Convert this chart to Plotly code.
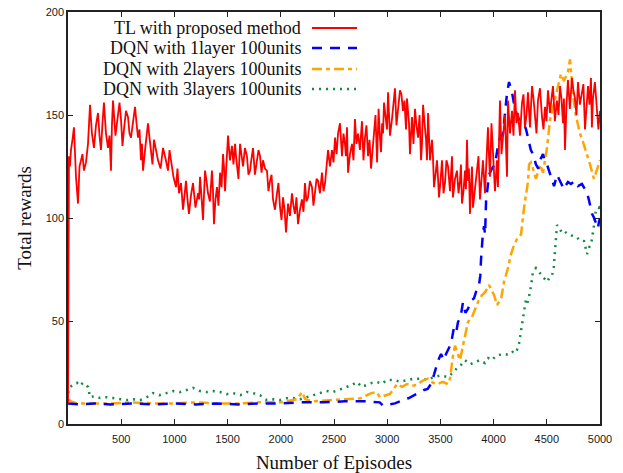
import plotly.graph_objects as go

# ---------------- data ----------------
tl_episodes = [0, 9, 28, 56, 94, 122, 150, 188, 207, 244, 282, 310, 338, 376, 404, 423, 470, 498, 526, 564,
               592, 630, 658, 686, 705, 752, 780, 808, 846, 893, 940, 968, 1015, 1043, 1081, 1109, 1137, 1175,
               1222, 1241, 1269, 1288, 1316, 1353, 1372, 1400, 1429, 1457, 1476, 1504, 1541, 1570, 1588, 1617,
               1645, 1682, 1711, 1739, 1776, 1805, 1833, 1870, 1899, 1927, 1964, 1993, 2021, 2049, 2068, 2105,
               2133, 2162, 2199, 2227, 2256, 2293, 2322, 2350, 2387, 2416, 2444, 2481, 2510, 2538, 2575, 2603,
               2622, 2632, 2669, 2697, 2726, 2763, 2791, 2820, 2848, 2876, 2905, 2933, 2952, 2970, 2998, 3008,
               3045, 3073, 3102, 3120, 3148, 3177, 3196, 3214, 3233, 3261, 3290, 3318, 3337, 3365, 3384, 3421,
               3440, 3468, 3487, 3515, 3543, 3572, 3609, 3618, 3656, 3684, 3703, 3731, 3750, 3759, 3778, 3797,
               3806, 3844, 3872, 3900, 3938, 3947, 3966, 3994, 4032, 4041, 4060, 4088, 4126, 4135, 4173, 4201,
               4229, 4267, 4295, 4323, 4361, 4389, 4417, 4455, 4483, 4511, 4530, 4558, 4595, 4624, 4652, 4671,
               4699, 4736, 4765, 4793, 4830, 4859, 4887, 4915, 4934, 4971, 5000]
tl_rewards = [10, 130, 133, 144, 107, 128, 123, 136, 155, 134, 151, 133, 156, 134, 123, 157, 152, 148, 143, 149,
              139, 154, 139, 128, 123, 146, 131, 138, 128, 134, 123, 128, 115, 112, 104, 118, 102, 117,
              112, 120, 99, 123, 112, 123, 97, 115, 122, 131, 113, 140, 135, 136, 125, 136,
              125, 130, 123, 134, 127, 130, 128, 123, 118, 109, 112, 105, 110, 93, 107, 112,
              102, 97, 109, 117, 110, 115, 112, 118, 122, 117, 133, 133, 139, 141, 130, 136,
              144, 122, 136, 148, 141, 147, 139, 130, 124, 143, 127, 138, 146, 156, 143, 161,
              148, 163, 152, 162, 152, 143, 152, 131, 149, 153, 139, 128, 155, 138, 151, 138,
              115, 128, 110, 128, 117, 125, 130, 110, 123, 118, 107, 123, 138, 118, 102, 125,
              105, 123, 109, 128, 136, 144, 120, 133, 128, 115, 157, 141, 120, 157, 152, 162,
              151, 156, 144, 161, 164, 149, 157, 149, 154, 162, 151, 164, 157, 164, 146, 133,
              167, 168, 158, 166, 161, 143, 164, 168, 158, 154, 152]
# additional readings of the jagged TL curve between the points above
tl_extra_episodes = [18, 42, 75, 108, 136, 169, 197, 225, 263, 296, 324, 357, 390, 413, 446, 484, 512, 545, 578,
                     611, 644, 672, 695, 728, 766, 794, 827, 870, 916, 954, 991, 1029, 1062, 1095, 1123, 1156,
                     1198, 1232, 1255, 1278, 1302, 1334, 1362, 1386, 1414, 1443, 1466, 1490, 1522, 1555, 1579,
                     1602, 1631, 1663, 1696, 1725, 1757, 1790, 1819, 1851, 1884, 1913, 1945, 1978, 2007, 2035,
                     2058, 2086, 2119, 2147, 2180, 2213, 2241, 2274, 2307, 2336, 2368, 2401, 2430, 2462, 2495,
                     2524, 2556, 2589, 2612, 2650, 2683, 2711, 2744, 2777, 2805, 2834, 2862, 2890, 2919, 2942,
                     2961, 2984, 3026, 3059, 3087, 3111, 3134, 3162, 3186, 3205, 3223, 3247, 3275, 3304, 3327,
                     3351, 3374, 3402, 3430, 3454, 3477, 3501, 3529, 3557, 3590, 3637, 3670, 3693, 3717, 3740,
                     3768, 3787, 3825, 3858, 3886, 3919, 3956, 3980, 4013, 4050, 4074, 4107, 4154, 4187, 4215,
                     4248, 4281, 4309, 4342, 4375, 4403, 4436, 4469, 4497, 4520, 4544, 4576, 4610, 4638, 4661,
                     4685, 4717, 4750, 4779, 4811, 4844, 4873, 4901, 4924, 4952, 4985]
tl_extra_rewards = [125, 138, 120, 125, 131, 127, 146, 141, 145, 140, 146, 141, 140, 145, 140, 156, 135, 152, 141,
                    147, 146, 143, 136, 135, 139, 126, 133, 124, 129, 133, 120, 124, 117, 112, 109, 111,
                    105, 109, 110, 111, 118, 108, 114, 109, 106, 115, 125, 127, 128, 126, 130,
                    119, 130, 134, 121, 129, 121, 133, 122, 124, 113, 121, 104, 117, 99, 104,
                    100, 101, 106, 110, 104, 103, 108, 118, 106, 119, 112, 113, 124, 125, 127,
                    131, 146, 141, 130, 131, 128, 136, 133, 128, 145, 138, 133, 150, 153, 132,
                    141, 150, 140, 156, 145, 155, 160, 157, 158, 146, 141, 136, 145, 150, 136,
                    146, 128, 128, 130, 121, 120, 118, 112, 128, 113, 119, 112, 126, 113, 114,
                    124, 115, 114, 130, 119, 112, 131, 146, 113, 135, 131, 150, 141, 140, 146,
                    140, 160, 150, 144, 158, 141, 163, 143, 147, 156, 158, 147, 150, 158, 158,
                    155, 153, 162, 150, 155, 165, 153, 155, 144, 166, 143]

dqn1_episodes = [0, 100, 250, 400, 600, 800, 1000, 1200, 1400, 1600, 1800, 2000, 2200, 2400, 2600, 2800, 2930,
                 2960, 3020, 3073, 3120, 3158, 3200, 3252, 3300, 3346, 3380, 3412, 3440, 3459, 3480, 3506, 3530,
                 3553, 3580, 3600, 3628, 3650, 3665, 3690, 3712, 3735, 3760, 3790, 3816, 3840, 3863, 3875, 3882,
                 3891, 3900, 3910, 3920, 3929, 3948, 3957, 3985, 4013, 4035, 4060, 4088, 4107, 4125, 4145, 4160,
                 4173, 4190, 4201, 4220, 4239, 4267, 4290, 4305, 4333, 4350, 4370, 4398, 4420, 4436, 4464, 4480,
                 4502, 4530, 4550, 4568, 4596, 4615, 4633, 4661, 4680, 4699, 4727, 4765, 4793, 4830, 4859, 4880,
                 4896, 4925, 4945, 4962, 4980, 4990, 5000]
dqn1_rewards = [10, 9.5, 10, 9.5, 10, 9.5, 10, 9.5, 10, 9.5, 10, 10, 10.5, 10.5, 11, 11, 10.5,
                9, 9.5, 10, 11, 12, 12.5, 14, 15, 16.5, 17, 19.5, 24, 28, 31, 34, 31,
                34, 37, 39, 47, 45, 49.5, 52, 59, 54, 56, 60, 61, 65, 67.5, 72, 80,
                88, 93, 96, 92, 108, 118, 121, 124, 126, 133, 139, 141, 152, 160, 166, 163,
                161, 156, 153, 150, 148, 146, 145, 143, 136, 133, 131, 126, 124, 128, 131, 128,
                126, 121, 118, 115.5, 121, 119, 117.5, 114, 116, 117.5, 116.5, 118, 115.5, 116.5, 114, 112,
                108.7, 102, 100, 97, 95, 98, 100]

dqn2_episodes = [0, 30, 80, 200, 400, 600, 800, 1000, 1200, 1400, 1600, 1800, 2000, 2150, 2200, 2230, 2300,
                 2450, 2600, 2750, 2850, 2900, 2932, 2980, 3026, 3060, 3092, 3140, 3186, 3230, 3280, 3330, 3383,
                 3430, 3477, 3520, 3571, 3590, 3600, 3618, 3637, 3660, 3684, 3712, 3735, 3759, 3797, 3825, 3860,
                 3891, 3920, 3957, 3980, 4004, 4032, 4070, 4098, 4135, 4164, 4192, 4229, 4258, 4286, 4310, 4323,
                 4333, 4350, 4370, 4398, 4420, 4436, 4464, 4485, 4502, 4530, 4550, 4568, 4596, 4615, 4633, 4661,
                 4699, 4718, 4730, 4746, 4774, 4812, 4840, 4877, 4906, 4943, 4962, 4980, 5000]
dqn2_rewards = [12, 11, 10, 10, 10, 10.5, 10, 10, 10.5, 10, 10, 10.5, 10.5, 12, 15.5, 12, 11,
                11.5, 12, 12.5, 15, 15.5, 13, 14, 14.6, 17, 19.4, 18, 19.4, 18.5, 19, 21, 22,
                20, 19.4, 20.5, 19.4, 22, 26, 33, 38, 34, 31, 38, 44, 49.5, 52, 56, 60,
                62.6, 64, 67.5, 65, 62.6, 57.8, 60.7, 69, 75.7, 82.5, 87, 90.7, 92, 105, 112, 117.5,
                126, 127, 124, 119, 123, 126, 122, 128, 134, 147.6, 152, 156, 163, 167, 170, 166.5,
                171, 177, 168, 160, 149.5, 141, 137, 131, 126, 119, 122, 124, 128]

dqn3_episodes = [0, 19, 50, 85, 110, 141, 165, 188, 207, 250, 301, 360, 423, 490, 555, 620, 677, 740, 799,
                 860, 930, 990, 1053, 1110, 1175, 1240, 1306, 1370, 1429, 1490, 1551, 1620, 1682, 1740, 1805,
                 1840, 1870, 1930, 1992, 2050, 2115, 2180, 2246, 2300, 2368, 2430, 2491, 2560, 2622, 2670, 2716,
                 2760, 2810, 2860, 2904, 2950, 2998, 3064, 3120, 3186, 3250, 3318, 3380, 3440, 3500, 3571, 3620,
                 3665, 3700, 3731, 3780, 3825, 3870, 3919, 3950, 3985, 4020, 4051, 4100, 4145, 4180, 4211, 4239,
                 4260, 4276, 4290, 4305, 4320, 4342, 4360, 4370, 4398, 4425, 4455, 4480, 4502, 4525, 4549, 4565,
                 4577, 4590, 4596, 4620, 4640, 4661, 4690, 4718, 4750, 4784, 4810, 4850, 4878, 4900, 4915, 4940,
                 4962, 4990, 5000]
dqn3_rewards = [15, 18, 19, 20, 18.5, 20, 19, 18, 13, 13.5, 12.6, 13, 12.6, 12, 11.6, 12, 11.6, 13, 15,
                14, 15, 16, 15.5, 16.5, 17.5, 16, 15.5, 16, 15.5, 14.5, 15, 14, 15.5, 15, 14,
                12.5, 11.6, 12, 11.6, 12.5, 12.6, 12, 13, 14, 15, 16, 15.5, 17, 18, 19, 20.4,
                18, 19, 20, 20.4, 19.5, 21.4, 21.4, 20.5, 21.4, 22, 22, 21.5, 22.8, 23.5, 22.8, 25,
                27.7, 29, 31, 29, 30, 31, 29.6, 32, 31, 33, 33.5, 34, 33.5, 35, 34.5, 39,
                46, 52, 56, 60.7, 59, 64, 70, 74, 75.7, 74, 72, 70, 69, 71, 72, 76,
                82.5, 92, 96.6, 95, 93, 93.7, 92.5, 92, 91, 90.7, 89, 88.8, 82.5, 86, 87, 95,
                104, 105, 102]

series_names = ["TL with proposed method", "DQN with 1layer 100units",
                "DQN with 2layers 100units", "DQN with 3layers 100units"]
x_ticks = [500, 1000, 1500, 2000, 2500, 3000, 3500, 4000, 4500, 5000]
y_ticks = [0, 50, 100, 150, 200]

# merge the two sets of TL readings in episode order
tl_pairs = sorted(zip(tl_episodes + tl_extra_episodes, tl_rewards + tl_extra_rewards))
tl_x = [p[0] for p in tl_pairs]
tl_y = [p[1] for p in tl_pairs]

# ---------------- styles ----------------
styles = [
    dict(color="#ff0000", width=1.8, dash="solid"),
    dict(color="#0000ff", width=2.5, dash="10px,8px"),
    dict(color="#ffa500", width=2.5, dash="10px,4px,4px,4px"),
    dict(color="#138a45", width=2.5, dash="2px,5px"),
]

fig = go.Figure()
data = [(dqn3_episodes, dqn3_rewards, 3), (dqn2_episodes, dqn2_rewards, 2),
        (dqn1_episodes, dqn1_rewards, 1), (tl_x, tl_y, 0)]
for xs, ys, i in data:
    fig.add_trace(go.Scatter(x=xs, y=ys, mode="lines", name=series_names[i],
                             line=styles[i], showlegend=False, hoverinfo="skip"))

# ---------------- manual legend (text left, sample right) ----------------
legend_y_px = [28, 48, 69, 89]
W, H = 623, 473
ml, mr, mt, mb = 68, 23, 12, 49
pw, ph = W - ml - mr, H - mt - mb
text_right_px = 303
line_x0_px, line_x1_px = 312, 357
annotations = []
shapes = []
for i, name in enumerate(series_names):
    yp = 1 - (legend_y_px[i] - mt) / ph
    annotations.append(dict(x=(text_right_px - ml) / pw, y=yp, xref="paper", yref="paper",
                            text=name, showarrow=False, xanchor="right", yanchor="middle",
                            font=dict(family="Liberation Serif", size=18, color="#111111")))
    lw = 2.5 if i else 2
    shapes.append(dict(type="line", xref="paper", yref="paper",
                       x0=(line_x0_px - ml) / pw, x1=(line_x1_px - ml) / pw, y0=yp, y1=yp,
                       line=dict(color=styles[i]["color"], width=lw, dash=styles[i]["dash"])))

axis_common = dict(showgrid=False, zeroline=False, showline=True, linecolor="#222222", linewidth=1.5,
                   mirror="ticks", ticks="inside", ticklen=5, tickcolor="#222222", tickwidth=1,
                   automargin=False,
                   tickfont=dict(family="Liberation Sans", size=11, color="#1a1a1a"))

fig.update_layout(
    width=W, height=H,
    margin=dict(l=ml, r=mr, t=mt, b=mb, autoexpand=False),
    plot_bgcolor="white", paper_bgcolor="white",
    xaxis=dict(range=[0, 5000], tickvals=x_ticks, ticklabelstandoff=4,
               title=dict(text="Number of Episodes", standoff=12,
                          font=dict(family="Liberation Serif", size=19, color="#111111")),
               **axis_common),
    yaxis=dict(range=[0, 200], tickvals=y_ticks,
               title=dict(text="Total rewards", standoff=9,
                          font=dict(family="Liberation Serif", size=19, color="#111111")),
               **axis_common),
    annotations=annotations,
    shapes=shapes,
)

fig.write_html("out.html")
